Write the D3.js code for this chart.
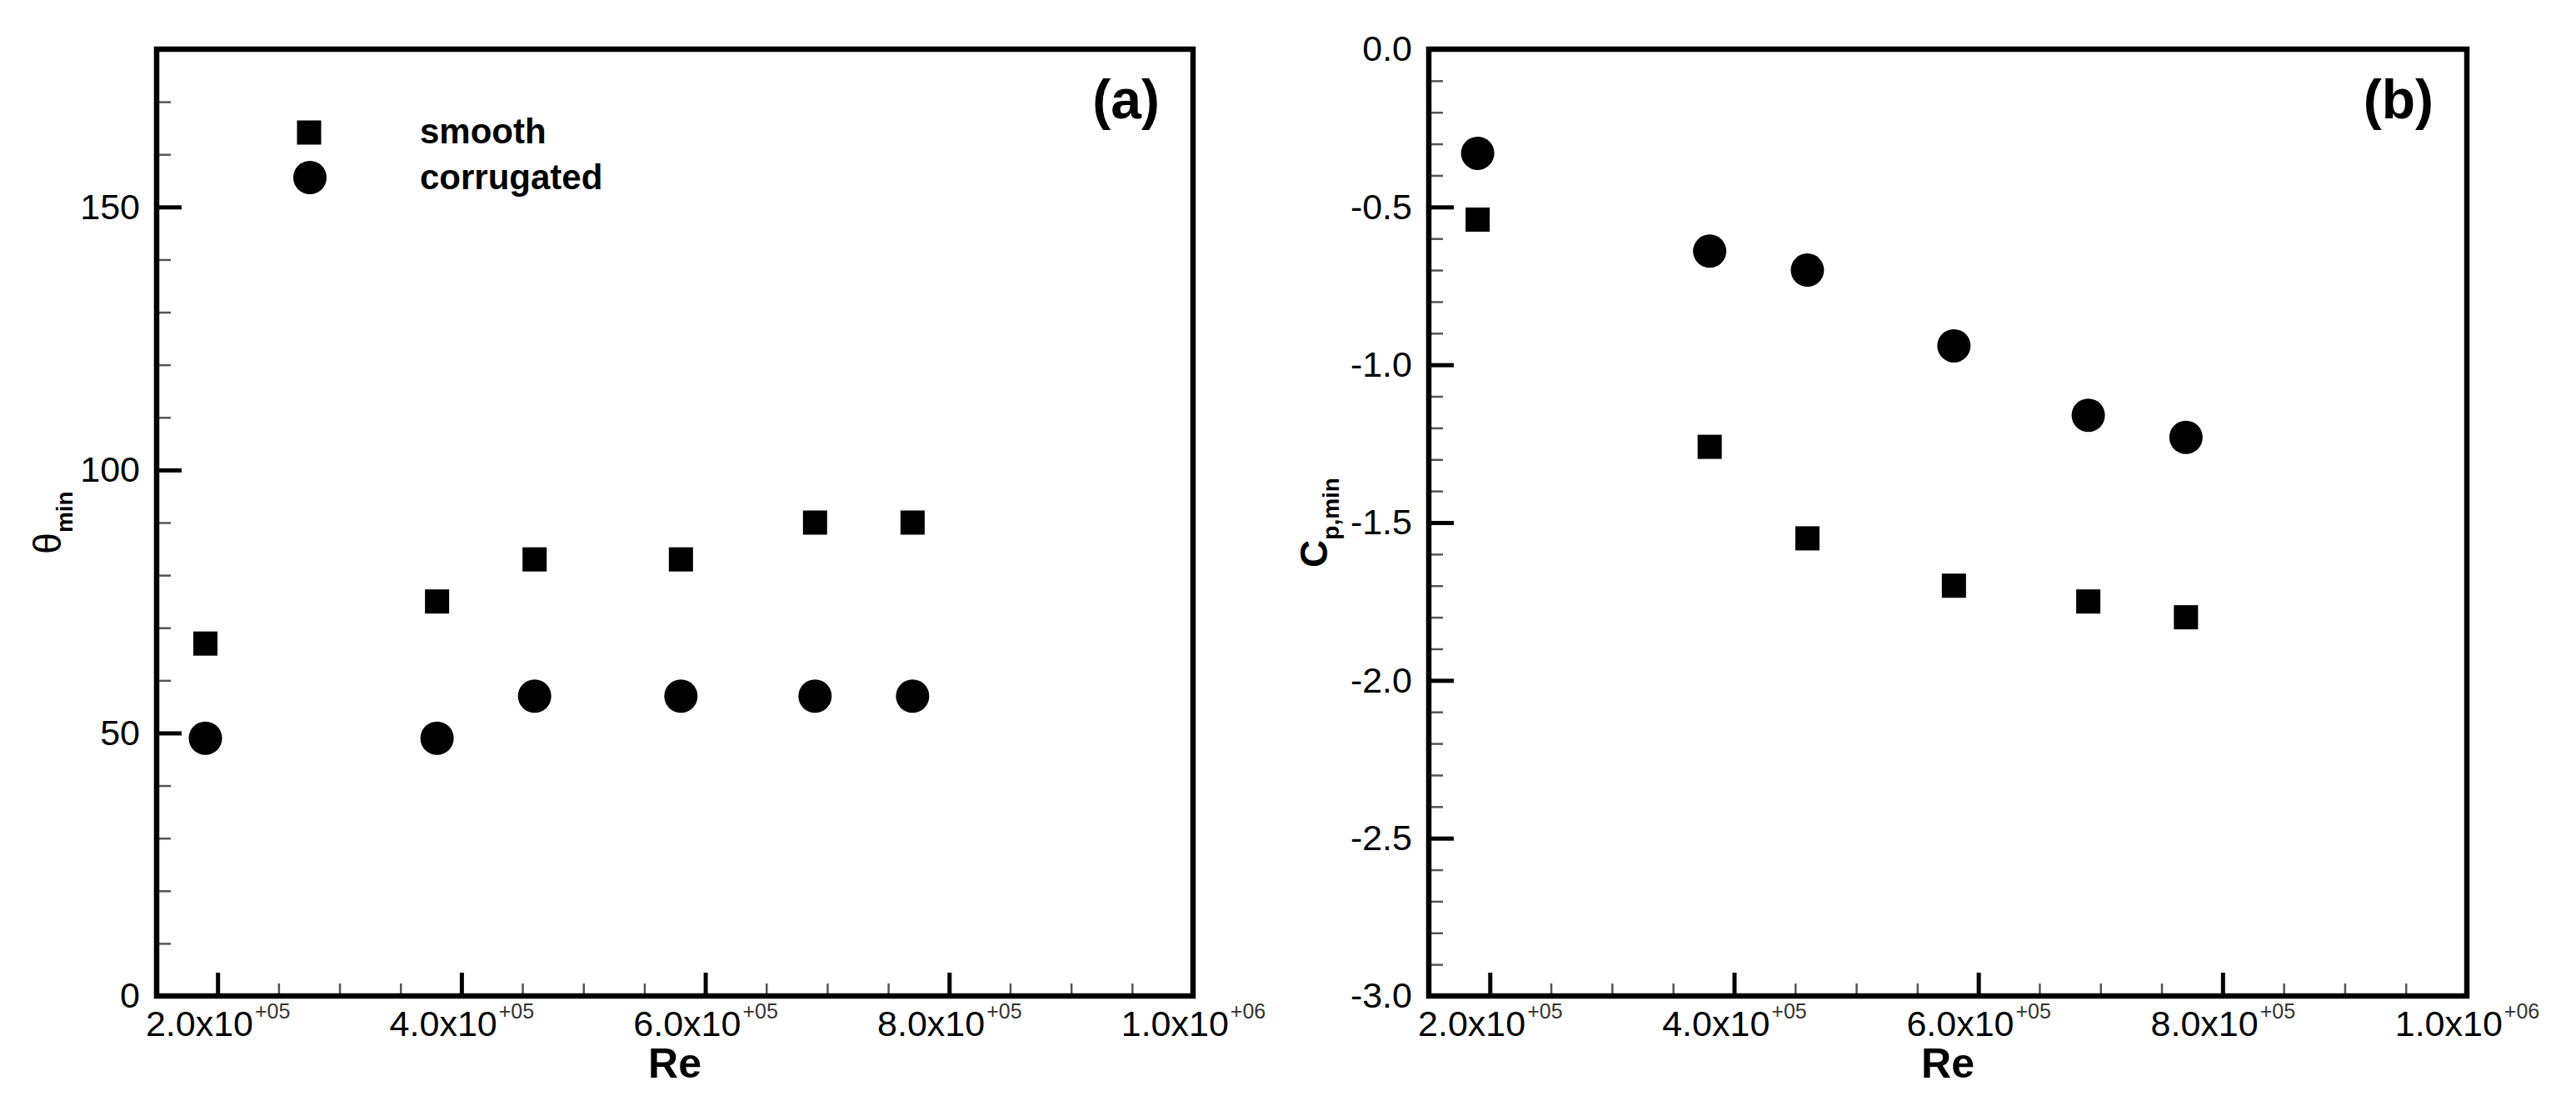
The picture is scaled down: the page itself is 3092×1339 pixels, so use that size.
<!DOCTYPE html>
<html>
<head>
<meta charset="utf-8">
<script src="https://cdn.jsdelivr.net/npm/d3@7"></script>
<style>
  html, body { margin: 0; padding: 0; background: #fff; }
  svg { display: block; }
  text { font-family: "Liberation Sans", Arial, Helvetica, sans-serif; fill: #000; }
</style>
</head>
<body>
<svg id="chart" width="3092" height="1339"></svg>
<script>
// ---------------- data ----------------
const reynolds        = [1.9e5, 3.8e5, 4.6e5, 5.8e5, 6.9e5, 7.7e5];
const thetaSmooth     = [67, 75, 83, 83, 90, 90];
const thetaCorrugated = [49, 49, 57, 57, 57, 57];
const cpSmooth        = [-0.54, -1.26, -1.55, -1.70, -1.75, -1.80];
const cpCorrugated    = [-0.33, -0.64, -0.70, -0.94, -1.16, -1.23];

const seriesNames = ["smooth", "corrugated"];

const xTickValues    = [2e5, 4e5, 6e5, 8e5, 1e6];
const xTickMantissas = ["2.0", "4.0", "6.0", "8.0", "1.0"];
const xTickExponents = ["+05", "+05", "+05", "+05", "+06"];
const xMinorTicks    = [2.5e5, 3e5, 3.5e5, 4.5e5, 5e5, 5.5e5, 6.5e5, 7e5, 7.5e5, 8.5e5, 9e5, 9.5e5];

const thetaTicks      = [0, 50, 100, 150];
const thetaTickLabels = ["0", "50", "100", "150"];
const thetaMinorTicks = [10, 20, 30, 40, 60, 70, 80, 90, 110, 120, 130, 140, 160, 170];

const cpTicks      = [0, -0.5, -1.0, -1.5, -2.0, -2.5, -3.0];
const cpTickLabels = ["0.0", "-0.5", "-1.0", "-1.5", "-2.0", "-2.5", "-3.0"];
const cpMinorTicks = [-0.1, -0.2, -0.3, -0.4, -0.6, -0.7, -0.8, -0.9, -1.1, -1.2, -1.3, -1.4,
                      -1.6, -1.7, -1.8, -1.9, -2.1, -2.2, -2.3, -2.4, -2.6, -2.7, -2.8, -2.9];

// ---------------- layout ----------------
const svg = d3.select("#chart");
const plotTop = 59, plotBottom = 1195;
const panels = [
  { left: 188,  right: 1432, yDomain: [0, 180], ticks: thetaTicks, labels: thetaTickLabels,
    minor: thetaMinorTicks, smooth: thetaSmooth, corr: thetaCorrugated, tag: "(a)",
    titleMain: "\u03B8", titleSub: "min", titleBold: false, titleX: 73, legend: true },
  { left: 1715, right: 2961, yDomain: [-3, 0], ticks: cpTicks, labels: cpTickLabels,
    minor: cpMinorTicks, smooth: cpSmooth, corr: cpCorrugated, tag: "(b)",
    titleMain: "C", titleSub: "p,min", titleBold: true, titleX: 1593, legend: false }
];

const markerSquare = 29, markerRadius = 20;

panels.forEach(p => {
  const x = d3.scaleLinear().domain([1.5e5, 1e6]).range([p.left, p.right]);
  const y = d3.scaleLinear().domain(p.yDomain).range([plotBottom, plotTop]);
  const g = svg.append("g");

  // minor ticks (y)
  g.append("g").attr("transform", `translate(${p.left},0)`)
    .call(d3.axisLeft(y).tickValues(p.minor).tickSizeInner(-17).tickSizeOuter(0).tickFormat(""))
    .call(s => s.select(".domain").remove())
    .call(s => s.selectAll("line").attr("stroke", "#555").attr("stroke-width", 2.5));

  // major ticks (y)
  g.append("g").attr("transform", `translate(${p.left},0)`)
    .call(d3.axisLeft(y).tickValues(p.ticks).tickSizeInner(-30).tickSizeOuter(0).tickPadding(20)
      .tickFormat((d, i) => p.labels[i]))
    .call(s => s.select(".domain").remove())
    .call(s => s.selectAll("line").attr("stroke", "#000").attr("stroke-width", 5))
    .call(s => s.selectAll("text").attr("font-size", 43).attr("fill", "#111")
      .style("font-family", '"Liberation Sans", Arial, sans-serif'));

  // minor ticks (x)
  g.append("g").attr("transform", `translate(0,${plotBottom})`)
    .call(d3.axisBottom(x).tickValues(xMinorTicks).tickSizeInner(-15).tickSizeOuter(0).tickFormat(""))
    .call(s => s.select(".domain").remove())
    .call(s => s.selectAll("line").attr("stroke", "#555").attr("stroke-width", 2.5));

  // major ticks (x)
  g.append("g").attr("transform", `translate(0,${plotBottom})`)
    .call(d3.axisBottom(x).tickValues(xTickValues).tickSizeInner(-28).tickSizeOuter(0).tickFormat(""))
    .call(s => s.select(".domain").remove())
    .call(s => s.selectAll("line").attr("stroke", "#000").attr("stroke-width", 5))
    .call(s => s.selectAll(".tick text").each(function(d, i) {
      const t = d3.select(this);
      t.text(null).attr("y", 48).attr("dy", 0).attr("font-size", 43).attr("fill", "#111")
        .attr("text-anchor", "middle")
        .style("font-family", '"Liberation Sans", Arial, sans-serif');
      t.append("tspan").text(xTickMantissas[i] + "x10");
      t.append("tspan").attr("dy", -21).attr("dx", 2).attr("font-size", 25).attr("fill", "#333")
        .text(xTickExponents[i]);
    }));

  // frame
  g.append("rect")
    .attr("x", p.left).attr("y", plotTop)
    .attr("width", p.right - p.left).attr("height", plotBottom - plotTop)
    .attr("fill", "none").attr("stroke", "#000").attr("stroke-width", 6.5);

  // data: smooth squares
  g.append("g").selectAll("rect").data(reynolds).join("rect")
    .attr("x", (d) => x(d) - markerSquare / 2)
    .attr("y", (d, i) => y(p.smooth[i]) - markerSquare / 2)
    .attr("width", markerSquare).attr("height", markerSquare)
    .attr("fill", "#000");

  // data: corrugated circles
  g.append("g").selectAll("circle").data(reynolds).join("circle")
    .attr("cx", (d) => x(d))
    .attr("cy", (d, i) => y(p.corr[i]))
    .attr("r", markerRadius)
    .attr("fill", "#000");

  // panel tag
  g.append("text")
    .attr("x", p.right - 40).attr("y", 142)
    .attr("text-anchor", "end").attr("font-size", 66).attr("font-weight", "bold")
    .text(p.tag);

  // x title
  g.append("text")
    .attr("x", (p.left + p.right) / 2).attr("y", 1293)
    .attr("text-anchor", "middle").attr("font-size", 50).attr("font-weight", "bold")
    .text("Re");

  // y title
  const yt = g.append("text")
    .attr("transform", `translate(${p.titleX},${(plotTop + plotBottom) / 2}) rotate(-90)`)
    .attr("text-anchor", "middle");
  yt.append("tspan").attr("font-size", 46)
    .attr("font-weight", p.titleBold ? "bold" : "normal").text(p.titleMain);
  yt.append("tspan").attr("font-size", 28).attr("font-weight", "bold").attr("dy", 14)
    .text(p.titleSub);

  // legend
  if (p.legend) {
    const lg = g.append("g").attr("transform", `translate(${p.left},${plotTop})`);
    lg.append("rect").attr("x", 183 - markerSquare / 2).attr("y", 100 - markerSquare / 2)
      .attr("width", markerSquare).attr("height", markerSquare).attr("fill", "#000");
    lg.append("circle").attr("cx", 184).attr("cy", 154).attr("r", markerRadius).attr("fill", "#000");
    lg.append("text").attr("x", 316).attr("y", 113).attr("font-size", 42).attr("font-weight", "bold")
      .text(seriesNames[0]);
    lg.append("text").attr("x", 316).attr("y", 168).attr("font-size", 42).attr("font-weight", "bold")
      .text(seriesNames[1]);
  }
});
</script>
</body>
</html>
